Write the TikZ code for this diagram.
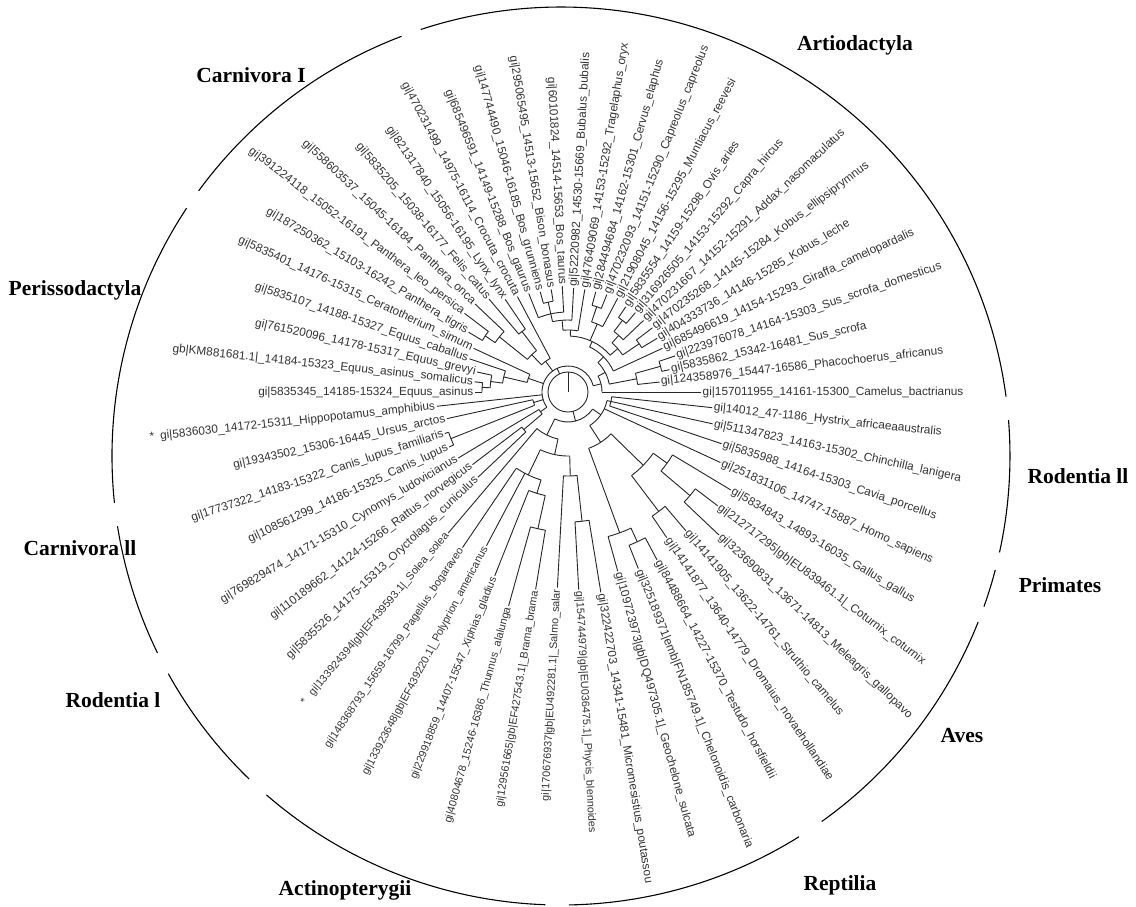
\documentclass[tikz,border=0pt]{standalone}
\usepackage{fontspec}
\setmainfont{Liberation Serif}
\newfontfamily\lblfont{Liberation Sans}
\def\LA{6.2068966}
\tikzset{
 branch/.style={draw=black!85, line width=0.9pt},
 lbl/.style={font=\lblfont\fontsize{11.8}{13}\selectfont, text=black!80, inner sep=1.5pt},
 small/.style={font=\lblfont\fontsize{10.8}{12}\selectfont},
 grp/.style={font=\bfseries\fontsize{21.5}{24}\selectfont, inner sep=0pt},
 outerarc/.style={draw=black, line width=1.1pt},
}
% clade: arc radius, parent radius, first index, last index
\newcommand\cl[4]{%
  \draw[branch] ({#3*\LA}:#1pt) arc[start angle={#3*\LA}, end angle={#4*\LA}, radius=#1pt];
  \draw[branch] ({(#3+#4)/2*\LA}:#2pt) -- ({(#3+#4)/2*\LA}:#1pt);}
% leaf: [style] name, index, base radius, tip radius, text
\newcommand\lfR[6][]{%
  \draw[branch] ({#3*\LA}:#4pt) -- ({#3*\LA}:#5pt);
  \node[lbl, #1, anchor=west, rotate={#3*\LA}] (#2) at ({#3*\LA}:#5pt) {#6};}
\newcommand\lfL[6][]{%
  \draw[branch] ({#3*\LA}:#4pt) -- ({#3*\LA}:#5pt);
  \node[lbl, #1, anchor=east, rotate={#3*\LA-180}] (#2) at ({#3*\LA}:#5pt) {#6};}
\newcommand\oarc[2]{\draw[outerarc] ([shift={(-7pt,-64pt)}]#1:449pt) arc[start angle=#1, end angle=#2, radius=449pt];}
\begin{document}
\begin{tikzpicture}[x=1pt,y=1pt]
\useasboundingbox (-568,-514) rectangle (568,392);
\fill[white] (-568,-514) rectangle (568,392);
% root
\draw[branch] (0,0) circle (20pt);
\draw[branch] (0,0) -- (0,20);
% upper mammals
\cl{26}{20}{2.234375}{34.75}
\cl{34}{26}{0}{4.46875}
\cl{42}{34}{1.75}{7.1875}
\cl{70}{42}{1}{2.5}
\cl{96}{70}{2}{3}
\cl{50}{42}{4}{10.375}
\cl{56}{50}{6.625}{14.125}
\cl{66}{56}{5.5}{7.75}
\cl{86}{66}{5}{6}
\cl{76}{66}{7}{8.5}
\cl{90}{76}{8}{9}
\cl{74}{56}{10}{11.5}
\cl{90}{74}{11}{12}
\cl{62}{56}{13}{15.25}
\cl{72}{62}{14}{16.5}
\cl{80}{72}{15}{18}
\cl{92}{80}{16}{17}
\cl{38}{26}{19}{21.625}
\cl{52}{38}{20.5}{22.75}
\cl{76}{52}{20}{21}
\cl{88}{52}{22}{23.5}
\cl{100}{88}{23}{24}
\cl{42}{26}{25}{26.875}
\cl{66}{42}{26}{27.75}
\cl{78}{66}{27}{28.5}
\cl{86}{78}{28}{29}
\cl{36}{26}{31}{32.5}
\cl{126}{36}{32}{33}
\cl{34}{26}{34}{35.5}
\cl{58}{34}{35}{36}
% lower clade
\cl{30}{20}{39.28125}{52.40625}
\cl{48}{30}{37}{41.5625}
\cl{64}{48}{39.375}{43.75}
\cl{92}{64}{38}{40.75}
\cl{106}{92}{40}{41.5}
\cl{140}{106}{41}{42}
\cl{84}{64}{43}{44.5}
\cl{130}{84}{44}{45}
\cl{40}{30}{48.8125}{56}
\cl{60}{40}{46.75}{50.875}
\cl{150}{60}{46}{47.5}
\cl{165}{150}{47}{48}
\cl{105}{60}{49.5}{52.25}
\cl{150}{105}{49}{50}
\cl{122}{105}{51.5}{53}
\cl{160}{122}{51}{52}
\cl{44}{40}{55}{57}
% leaves
\lfR{l0}{0}{34}{133}{gi|157011955\_14161-15300\_Camelus\_bactrianus}
\lfR{l1}{1}{70}{92}{gi|124358976\_15447-16586\_Phacochoerus\_africanus}
\lfR{l2}{2}{96}{104}{gi|5835862\_15342-16481\_Sus\_scrofa}
\lfR{l3}{3}{96}{113}{gi|223976078\_14164-15303\_Sus\_scrofa\_domesticus}
\lfR{l4}{4}{50}{104}{gi|685496619\_14154-15293\_Giraffa\_camelopardalis}
\lfR{l5}{5}{86}{104}{gi|404333736\_14146-15285\_Kobus\_leche}
\lfR{l6}{6}{86}{106}{gi|470235268\_14145-15284\_Kobus\_ellipsiprymnus}
\lfR{l7}{7}{76}{104}{gi|470231667\_14152-15291\_Addax\_nasomaculatus}
\lfR{l8}{8}{90}{104}{gi|316926505\_14153-15292\_Capra\_hircus}
\lfR{l9}{9}{90}{103}{gi|5835554\_14159-15298\_Ovis\_aries}
\lfR{l10}{10}{74}{106}{gi|21908045\_14156-15295\_Muntiacus\_reevesi}
\lfR{l11}{11}{90}{105}{gi|470232093\_14151-15290\_Capreolus\_capreolus}
\lfR{l12}{12}{90}{104}{gi|284494684\_14162-15301\_Cervus\_elaphus}
\lfR{l13}{13}{62}{104}{gi|476409069\_14153-15292\_Tragelaphus\_oryx}
\lfR{l14}{14}{72}{104}{gi|52220982\_14530-15669\_Bubalus\_bubalis}
\lfL{l15}{15}{80}{106}{gi|60101824\_14514-15653\_Bos\_taurus}
\lfL{l16}{16}{92}{104}{gi|295065495\_14513-15652\_Bison\_bonasus}
\lfL{l17}{17}{92}{104}{gi|147744490\_15046-16185\_Bos\_grunniens}
\lfL{l18}{18}{80}{106}{gi|685496591\_14149-15288\_Bos\_gaurus}
\lfL{l19}{19}{38}{108}{gi|470231499\_14975-16114\_Crocuta\_crocuta}
\lfL{l20}{20}{76}{112}{gi|821317840\_15056-16195\_Lynx\_lynx}
\lfL{l21}{21}{76}{122}{gi|5835205\_15038-16177\_Felis\_catus}
\lfL{l22}{22}{88}{128}{gi|558603537\_15045-16184\_Panthera\_onca}
\lfL{l23}{23}{100}{130}{gi|391224118\_15052-16191\_Panthera\_leo\_persica}
\lfL{l24}{24}{100}{116}{gi|187250362\_15103-16242\_Panthera\_tigris}
\lfL{l25}{25}{42}{104}{gi|5835401\_14176-15315\_Ceratotherium\_simum}
\lfL{l26}{26}{66}{104}{gi|5835107\_14188-15327\_Equus\_caballus}
\lfL{l27}{27}{78}{93}{gi|761520096\_14178-15317\_Equus\_grevyi}
\lfL{l28}{28}{86}{94}{gb|KM881681.1|\_14184-15323\_Equus\_asinus\_somalicus}
\lfL{l29}{29}{86}{93}{gi|5835345\_14185-15324\_Equus\_asinus}
\lfL{l30}{30}{26}{132}{*\hspace{6pt}gi|5836030\_14172-15311\_Hippopotamus\_amphibius}
\lfL{l31}{31}{36}{124}{gi|19343502\_15306-16445\_Ursus\_arctos}
\lfL{l32}{32}{126}{130}{gi|17737322\_14183-15322\_Canis\_lupus\_familiaris}
\lfL{l33}{33}{126}{131}{gi|108561299\_14186-15325\_Canis\_lupus}
\lfL{l34}{34}{34}{128}{gi|769829474\_14171-15310\_Cynomys\_ludovicianus}
\lfL{l35}{35}{58}{120}{gi|110189662\_14124-15266\_Rattus\_norvegicus}
\lfL{l36}{36}{58}{124}{gi|5835526\_14175-15313\_Oryctolagus\_cuniculus}
\lfL[small]{l37}{37}{48}{185}{*\hspace{8pt}gi|133924394|gb|EF439593.1|\_Solea\_solea}
\lfL[small]{l38}{38}{92}{188}{gi|148368793\_15659-16799\_Pagellus\_bogaraveo}
\lfL[small]{l39}{39}{92}{174}{gi|133923648|gb|EF439220.1|\_Polyprion\_americanus}
\lfL[small]{l40}{40}{106}{198}{gi|229918859\_14407-15547\_Xiphias\_gladius}
\lfL[small]{l41}{41}{140}{222}{gi|40804678\_15246-16386\_Thunnus\_alalunga}
\lfL[small]{l42}{42}{140}{200}{gi|129561665|gb|EF427543.1|\_Brama\_brama}
\lfL[small]{l43}{43}{84}{196}{gi|170676937|gb|EU492281.1|\_Salmo\_salar}
\lfR[small]{l44}{44}{130}{198}{gi|154744979|gb|EU036475.1|\_Phycis\_blennoides}
\lfR{l45}{45}{130}{203}{gi|322422703\_14341-15481\_Micromesistius\_poutassou}
\lfR{l46}{46}{150}{186}{gi|109723973|gb|DQ497305.1|\_Geochelone\_sulcata}
\lfR{l47}{47}{165}{190}{gi|325189371|emb|FN185749.1|\_Chelonoidis\_carbonaria}
\lfR{l48}{48}{165}{190}{gi|84488664\_14227-15370\_Testudo\_horsfieldii}
\lfR{l49}{49}{150}{176}{gi|14141877\_13640-14779\_Dromaius\_novaehollandiae}
\lfR{l50}{50}{150}{182}{gi|14141905\_13622-14761\_Struthio\_camelus}
\lfR{l51}{51}{160}{208}{gi|323690831\_13671-14813\_Meleagris\_gallopavo}
\lfR{l52}{52}{160}{188}{gi|212717295|gb|EU839461.1|\_Coturnix\_coturnix}
\lfR{l53}{53}{122}{190}{gi|5834843\_14893-16035\_Gallus\_gallus}
\lfR{l54}{54}{40}{168}{gi|251831106\_14747-15887\_Homo\_sapiens}
\lfR{l55}{55}{44}{162}{gi|5835988\_14164-15303\_Cavia\_porcellus}
\lfR{l56}{56}{44}{148}{gi|511347823\_14163-15302\_Chinchilla\_lanigera}
\lfR{l57}{57}{44}{145}{gi|14012\_47-1186\_Hystrix\_africaeaaustralis}
% outer group arcs
\oarc{7.6}{108.2}
\oarc{110.8}{143.8}
\oarc{146.5}{186}
\oarc{189}{206}
\oarc{209}{226}
\oarc{229}{268}
\oarc{271}{302}
\oarc{305.5}{338.3}
\oarc{340.4}{345.3}
\oarc{347.6}{364.6}
% group labels
\node[grp] (gArt) at (287,347) {Artiodactyla};
\node[grp] (gCarI) at (-317,317) {Carnivora I};
\node[grp] (gPer) at (-493,102) {Perissodactyla};
\node[grp] (gCarII) at (-488,-156) {Carnivora ll};
\node[grp] (gRodI) at (-455,-308) {Rodentia l};
\node[grp] (gAct) at (-223,-498) {Actinopterygii};
\node[grp] (gRep) at (272,-493) {Reptilia};
\node[grp] (gAves) at (394,-344) {Aves};
\node[grp] (gPrim) at (492,-193) {Primates};
\node[grp] (gRodII) at (510,-84) {Rodentia ll};
\end{tikzpicture}
\end{document}
